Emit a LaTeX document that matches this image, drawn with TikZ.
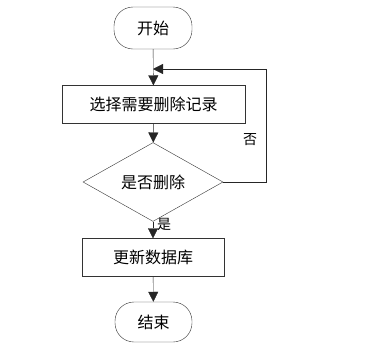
\documentclass[tikz,border=0pt]{standalone}
\usepackage{fontspec}
\setmainfont{Noto Sans CJK SC}
\usetikzlibrary{shapes.geometric,arrows.meta}

\begin{document}
\begin{tikzpicture}[
    x=1pt, y=-1pt,
    font=\fontsize{16}{18}\selectfont,
    terminal/.style={
        rectangle,
        draw=black!80,
        fill=white,
        rounded corners=19pt,
        minimum width=78pt,
        minimum height=42pt,
        inner sep=0pt
    },
    block/.style={
        rectangle,
        draw=black!80,
        fill=white,
        minimum height=38pt,
        inner sep=0pt
    },
    decision/.style={
        diamond,
        draw=black!80,
        fill=white,
        minimum width=140pt,
        minimum height=47pt,
        inner sep=0pt
    },
    tag/.style={
        font=\fontsize{14}{16}\selectfont
    },
    arrow/.style={
        -{Triangle[width=10pt,length=10pt]},
        black!85
    }
]

\useasboundingbox (0,0) rectangle (366,359);

% --- Main flow ---
\node[terminal] (start) at (153,28) {开始};
\node[block, minimum width=183pt] (select) at (153.5,104.5) {选择需要删除记录};
\node[decision] (check) at (153,182) {是否删除};
\node[block, minimum width=142pt] (update) at (153,257.5) {更新数据库};
\node[terminal, minimum width=77pt, minimum height=40pt] (stop) at (153.5,322) {结束};

\draw[arrow] (start) -- (select);
\draw[arrow] (select) -- (check);
\draw[arrow] (check) -- (update);
\node[tag] (yes) at (164,224) {是};
\draw[arrow] (update) -- (stop);

% --- Loop back ---
\coordinate (back) at (153,69);
\draw[arrow] (check.east) -- ++(43,0) |- (back);
\node[tag] (no) at (250,140) {否};

\end{tikzpicture}
\end{document}
